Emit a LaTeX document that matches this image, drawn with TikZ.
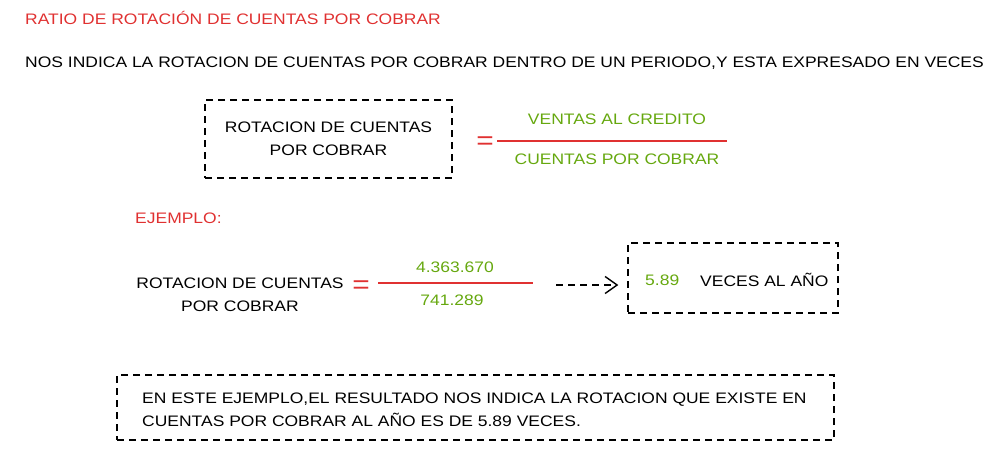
\documentclass[tikz,border=0pt]{standalone}
\usepackage{fontspec}
\setmainfont{Liberation Sans}[FakeStretch=1.15]
\usepackage{tikz}
\usetikzlibrary{positioning,arrows.meta}
\usepackage{xcolor}
\definecolor{sketchred}{HTML}{E03131}
\definecolor{sketchgreen}{HTML}{66A80F}

\begin{document}
\begin{tikzpicture}[x=1pt,y=-1pt,>={Straight Barb[length=12pt,width=17pt,line width=1.4pt]},
  every node/.style={font=\fontsize{15.2}{23}\selectfont,inner sep=0pt},
  box/.style={draw,line width=1.4pt,dash pattern=on 7pt off 5pt},
  eqsign/.style={text=sketchred,font=\fontsize{26}{26}\selectfont},
  fracline/.style={draw=sketchred,line width=1.2pt}]
\useasboundingbox (0,0) rectangle (1004,460);
% headings
\node[anchor=west,text=sketchred] (title) at (25,18) {RATIO DE ROTACIÓN DE CUENTAS POR COBRAR};
\node[anchor=west] (desc) at (25,63) {NOS INDICA LA ROTACION DE CUENTAS POR COBRAR DENTRO DE UN PERIODO,Y ESTA EXPRESADO EN VECES};
% general formula
\node[box,minimum width=247,minimum height=78,align=center] (defbox) at (328.5,139) {ROTACION DE CUENTAS\\POR COBRAR};
\node[eqsign] (defeq) at (485,143) {=};
\coordinate (defl) at (497,141);
\coordinate (defr) at (727,141);
\draw[fracline] (defl) -- (defr);
\node[text=sketchgreen] (defnum) at (617,119) {VENTAS AL CREDITO};
\node[text=sketchgreen] (defden) at (617,159) {CUENTAS POR COBRAR};
% example
\node[anchor=west,text=sketchred] (ej) at (135,218) {EJEMPLO:};
\node[align=center] (exlhs) at (240,295) {ROTACION DE CUENTAS\\POR COBRAR};
\node[eqsign] (exeq) at (361,287) {=};
\coordinate (exl) at (378,283);
\coordinate (exr) at (533,283);
\draw[fracline] (exl) -- (exr);
\node[text=sketchgreen] (exnum) at (455,267) {4.363.670};
\node[text=sketchgreen] (exden) at (452,300) {741.289};
\node[box,minimum width=210,minimum height=70] (resbox) at (733,278) {};
\node[anchor=west,text=sketchgreen] (resval) at (645,280) {5.89};
\node[anchor=west] (restxt) at (700,280) {VECES AL AÑO};
\coordinate (arrs) at (556,285);
\draw[->,line width=1.4pt,dash pattern=on 7pt off 5pt,shorten >=9pt] (arrs) -- (arrs -| resbox.west);
% conclusion
\node[box,minimum width=717,minimum height=65] (notebox) at (475.5,407.5) {};
\node[anchor=west,align=left] (notetxt) at (142,410) {EN ESTE EJEMPLO,EL RESULTADO NOS INDICA LA ROTACION QUE EXISTE EN\\CUENTAS POR COBRAR AL AÑO ES DE 5.89 VECES.};
\end{tikzpicture}
\end{document}
